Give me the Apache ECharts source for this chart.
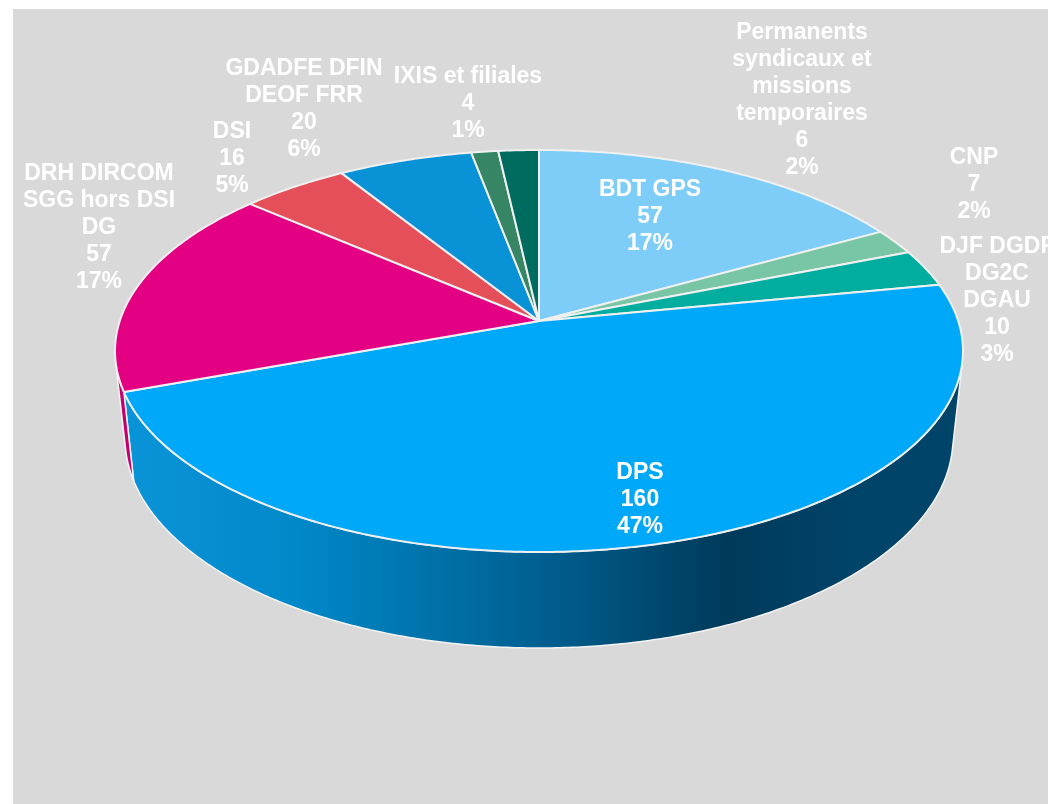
<!DOCTYPE html>
<html>
<head>
<meta charset="utf-8">
<style>
  html, body { margin: 0; padding: 0; background: #fff; overflow: hidden; }
  #chart { width: 1048px; height: 804px; }
</style>
<script src="https://cdn.jsdelivr.net/npm/echarts@6/dist/echarts.min.js"></script>
</head>
<body>
<div id="chart"></div>
<script>
// slices, clockwise from 12 o'clock
const names = ['BDT GPS', 'CNP', 'DJF DGDF\nDG2C\nDGAU', 'DPS', 'DRH DIRCOM\nSGG hors DSI\nDG', 'DSI', 'GDADFE DFIN\nDEOF FRR', 'IXIS et filiales', 'Permanents\nsyndicaux et\nmissions\ntemporaires'];
const values = [57, 7, 10, 160, 57, 16, 20, 4, 6];
const colors = ['#7dcdf8', '#79c6a6', '#00ad9f', '#00a8f9', '#e40082', '#e54f5a', '#0a92d6', '#368665', '#006b5f'];
const wallColors = ['#5a9cc0', '#5a9c80', '#008a80', null, '#c4006f', '#b83f48', '#0878b0', '#2a6a50', '#005049'];
// label block centres in px
const labelX = [650, 974, 997, 640, 99, 232, 304, 468, 802];
const labelY = [217, 185, 301, 500, 228, 159, 109, 104, 100];

// tilted disc: top ellipse, bottom ellipse and the perspective that moves the apex up
const top_ = { cx: 539, cy: 351, a: 424, b: 201 };
const bot_ = { cx: 539, cy: 438, a: 414, b: 210 };
const persp = 0.149;
const total = values.reduce((s, v) => s + v, 0);

// angle in the pie plane (0 = up, clockwise) -> parameter on the top ellipse
function phiOf(theta) {
  const X = Math.sin(theta), Y = -Math.cos(theta);
  const w = 1 - persp * Y;
  const R = top_.a * Math.sqrt(1 - persp * persp);
  const S = 196.5;
  const px = R * X / w, py = 321 + S * Y / w;
  return Math.atan2((py - top_.cy) / top_.b, px / top_.a);
}
function onEllipse(e, phi) {
  return [e.cx + e.a * Math.cos(phi), e.cy + e.b * Math.sin(phi)];
}
// where the wall outline leaves the top ellipse
const silhouette = Math.asin((top_.a - bot_.a) * top_.b / (top_.a * (bot_.cy - top_.cy)));

function sliceAngles(i) {
  let sum = 0;
  for (let k = 0; k < i; k++) sum += values[k];
  return [sum / total * Math.PI * 2, (sum + values[i]) / total * Math.PI * 2];
}
function arcPts(e, from, to) {
  const n = Math.max(2, Math.ceil(Math.abs(to - from) / 0.01));
  const pts = [];
  for (let k = 0; k <= n; k++) pts.push(onEllipse(e, from + (to - from) * k / n));
  return pts;
}
function unwrap(phi) { return phi < -Math.PI / 2 ? phi + Math.PI * 2 : phi; }

const wallGradient = new echarts.graphic.LinearGradient(0, 0, 1, 0, [
  { offset: 0, color: '#0a94d8' },
  { offset: 0.13, color: '#058ccf' },
  { offset: 0.21, color: '#0088c8' },
  { offset: 0.5, color: '#005f90' },
  { offset: 0.72, color: '#003a5a' },
  { offset: 0.875, color: '#00446a' },
  { offset: 1, color: '#00446a' }
]);

function renderWall(params, api) {
  const i = api.value(0);
  const ang = sliceAngles(i);
  const p0 = unwrap(phiOf(ang[0])), p1 = unwrap(phiOf(ang[1]));
  const from = Math.max(p0, silhouette), to = Math.min(p1, Math.PI - silhouette);
  if (to <= from) return null;
  const pts = arcPts(top_, from, to).concat(arcPts(bot_, to, from));
  return {
    type: 'polygon',
    shape: { points: pts },
    style: {
      fill: wallColors[i] || wallGradient,
      stroke: '#f4f4f4',
      lineWidth: 1.5,
      lineJoin: 'round'
    }
  };
}

function renderTop(params, api) {
  const i = api.value(0);
  const ang = sliceAngles(i);
  const p0 = unwrap(phiOf(ang[0])), p1 = unwrap(phiOf(ang[1]));
  const pts = [[539, 321]].concat(arcPts(top_, p0, p1));
  return {
    type: 'polygon',
    shape: { points: pts },
    style: { fill: colors[i], stroke: '#f0f0f0', lineWidth: 2, lineJoin: 'round' }
  };
}

function renderLabel(params, api) {
  const i = api.value(0);
  const pct = Math.round(values[i] / total * 100) + '%';
  return {
    type: 'text',
    style: {
      x: labelX[i],
      y: labelY[i],
      text: names[i] + '\n' + values[i] + '\n' + pct,
      fill: '#fff',
      align: 'center',
      verticalAlign: 'middle',
      font: 'bold 23px "Liberation Sans", Arial, sans-serif',
      lineHeight: 27
    }
  };
}

const rows = values.map((v, i) => [i, v]);
const chart = echarts.init(document.getElementById('chart'), null, { renderer: 'canvas' });
chart.setOption({
  animation: false,
  graphic: [{
    type: 'rect',
    z: -1,
    shape: { x: 13, y: 9, width: 1035, height: 795 },
    style: { fill: '#d9d9d9' }
  }],
  series: [
    { type: 'custom', coordinateSystem: 'none', data: rows, renderItem: renderWall, z: 1, silent: true },
    { type: 'custom', coordinateSystem: 'none', data: rows, renderItem: renderTop, z: 2, silent: true },
    { type: 'custom', coordinateSystem: 'none', data: rows, renderItem: renderLabel, z: 3, silent: true }
  ]
});
</script>
</body>
</html>
